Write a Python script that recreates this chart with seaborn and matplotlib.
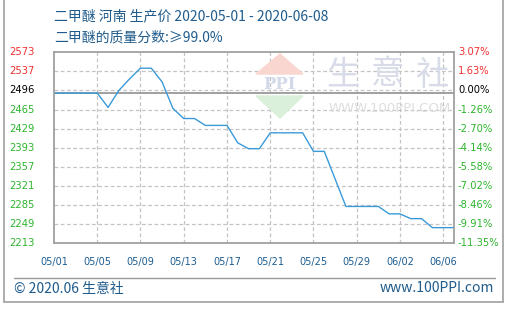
import matplotlib
matplotlib.use("Agg")
import matplotlib.pyplot as plt
from matplotlib.patches import Polygon
from matplotlib.lines import Line2D
import seaborn as sns
import pandas as pd

# ---- data ----
dates = pd.date_range("2020-05-01", "2020-06-07", freq="D")
prices = [2496, 2496, 2496, 2496, 2496, 2469, 2501, 2523, 2543, 2543,
          2517, 2467, 2448, 2448, 2435, 2435, 2435, 2402, 2391, 2391,
          2421, 2421, 2421, 2421, 2386, 2386, 2334, 2282, 2282, 2282,
          2282, 2268, 2268, 2259, 2259, 2242, 2242, 2242]
base_price = 2496
left_labels = ["2573", "2537", "2496", "2465", "2429", "2393", "2357",
               "2321", "2285", "2249", "2213"]
right_labels = ["3.07%", "1.63%", "0.00%", "-1.26%", "-2.70%", "-4.14%",
                "-5.58%", "-7.02%", "-8.46%", "-9.91%", "-11.35%"]
tick_values = [2573, 2537, 2501, 2465, 2429, 2393, 2357, 2321, 2285, 2249, 2213]
x_tick_labels = ["05/01", "05/05", "05/09", "05/13", "05/17", "05/21",
                 "05/25", "05/29", "06/02", "06/06"]
title = "二甲醚 河南 生产价 2020-05-01 - 2020-06-08"
subtitle = "二甲醚的质量分数:≥99.0%"

df = pd.DataFrame({"date": dates, "price": prices})

sns.set_style("white")
plt.rcParams["font.family"] = ["DejaVu Sans"]
CJK = ["Noto Sans CJK SC", "DejaVu Sans"]

W, H = 510, 311
fig = plt.figure(figsize=(W / 100, H / 100), dpi=100)
def fx(x): return x / W
def fy(y): return 1 - y / H

L, R, T, B = 54, 454, 52.3, 243
ax = fig.add_axes([fx(L), fy(B), (R - L) / W, (B - T) / H])

sns.lineplot(data=df, x="date", y="price", ax=ax, color="#3a9ad9", lw=1.0,
             zorder=3)

ax.set_ylim(2213, 2573)
ax.set_xlim(pd.Timestamp("2020-05-01"), pd.Timestamp("2020-06-07"))
ax.set_yticks(tick_values)
ax.set_yticklabels([])
xt = [pd.Timestamp("2020-" + s.replace("/", "-")) for s in x_tick_labels]
ax.set_xticks(xt)
ax.set_xticklabels(x_tick_labels, fontsize=7, color="#1c5c91")
ax.tick_params(axis="both", length=0)
ax.tick_params(axis="x", pad=10)
ax.set_xlabel("")
ax.set_ylabel("")

grid_kw = dict(color="#c4c4c4", ls=(0, (3, 2)), lw=0.9, zorder=1)
for v in tick_values[1:-1]:
    ax.axhline(v, **grid_kw)
for d in xt[1:]:
    ax.axvline(d, **grid_kw)
ax.axhline(base_price, color="#999999", lw=1.3, zorder=2)
for s in ax.spines.values():
    s.set_color("#a0a0a0")
    s.set_linewidth(1.3)
    s.set_zorder(4)

# y labels (left and right)
trans = matplotlib.transforms.blended_transform_factory(fig.transFigure, ax.transData)
for v, ll, rl in zip(tick_values, left_labels, right_labels):
    if ll == str(base_price):
        c = "black"
    elif int(ll) > base_price:
        c = "#f03030"
    else:
        c = "#2db52d"
    fig.text(fx(9), 0, ll, transform=trans, fontsize=7.2, color=c,
             ha="left", va="center")
    fig.texts[-1].set_y(v)
    fig.text(fx(458), 0, rl, transform=trans, fontsize=7.2, color=c,
             ha="left", va="center")
    fig.texts[-1].set_y(v)

# watermark
tri_r = Polygon([[fx(256), fy(74)], [fx(303), fy(74)], [fx(280), fy(54)]],
                closed=True, transform=fig.transFigure, color="#f9d6d0",
                zorder=0.5)
tri_g = Polygon([[fx(256), fy(96)], [fx(303), fy(96)], [fx(280), fy(118)]],
                closed=True, transform=fig.transFigure, color="#daf0da",
                zorder=0.5)
fig.patches.extend([tri_r, tri_g])
fig.text(fx(280), fy(85), "PPI", fontsize=12, color="#d3d9e8",
         ha="center", va="center", fontweight="bold", family="DejaVu Serif",
         zorder=0.5)
for cx, ch in zip([343, 388, 432], "生意社"):
    fig.text(fx(cx), fy(75), ch, fontsize=24, color="#d8dce8", ha="center",
             va="center", family=CJK, zorder=0.5)
fig.text(fx(390), fy(108), "WWW.100PPI.COM", fontsize=9.5, color="#dedede",
         ha="center", va="center", zorder=0.5)

# titles
fig.text(fx(54), fy(16.5), title, fontsize=10, color="#1f5b8c",
         ha="left", va="center", family=CJK)
fig.text(fx(54), fy(37.5), subtitle, fontsize=10, color="#1f5b8c",
         ha="left", va="center", family=CJK)

# footer
fig.text(fx(14), fy(288.5), "© 2020.06 生意社", fontsize=10, color="#1f5b8c",
         ha="left", va="center", family=CJK)
fig.text(fx(494), fy(288.5), "www.100PPI.com", fontsize=10, color="#1f5b8c",
         ha="right", va="center", family=CJK)

# frame lines
lc = "#a0a0a0"
fig.lines.extend([
    Line2D([fx(14), fx(495)], [fy(278.3), fy(278.3)], transform=fig.transFigure, color="#999999", lw=1),
    Line2D([fx(4.5), fx(4.5)], [fy(0), fy(301.7)], transform=fig.transFigure, color=lc, lw=1.2),
    Line2D([fx(502.7), fx(502.7)], [fy(0), fy(301.7)], transform=fig.transFigure, color=lc, lw=1.2),
    Line2D([fx(4.5), fx(502.7)], [fy(301.7), fy(301.7)], transform=fig.transFigure, color=lc, lw=1.2),
])

fig.savefig("out.png", dpi=100)
